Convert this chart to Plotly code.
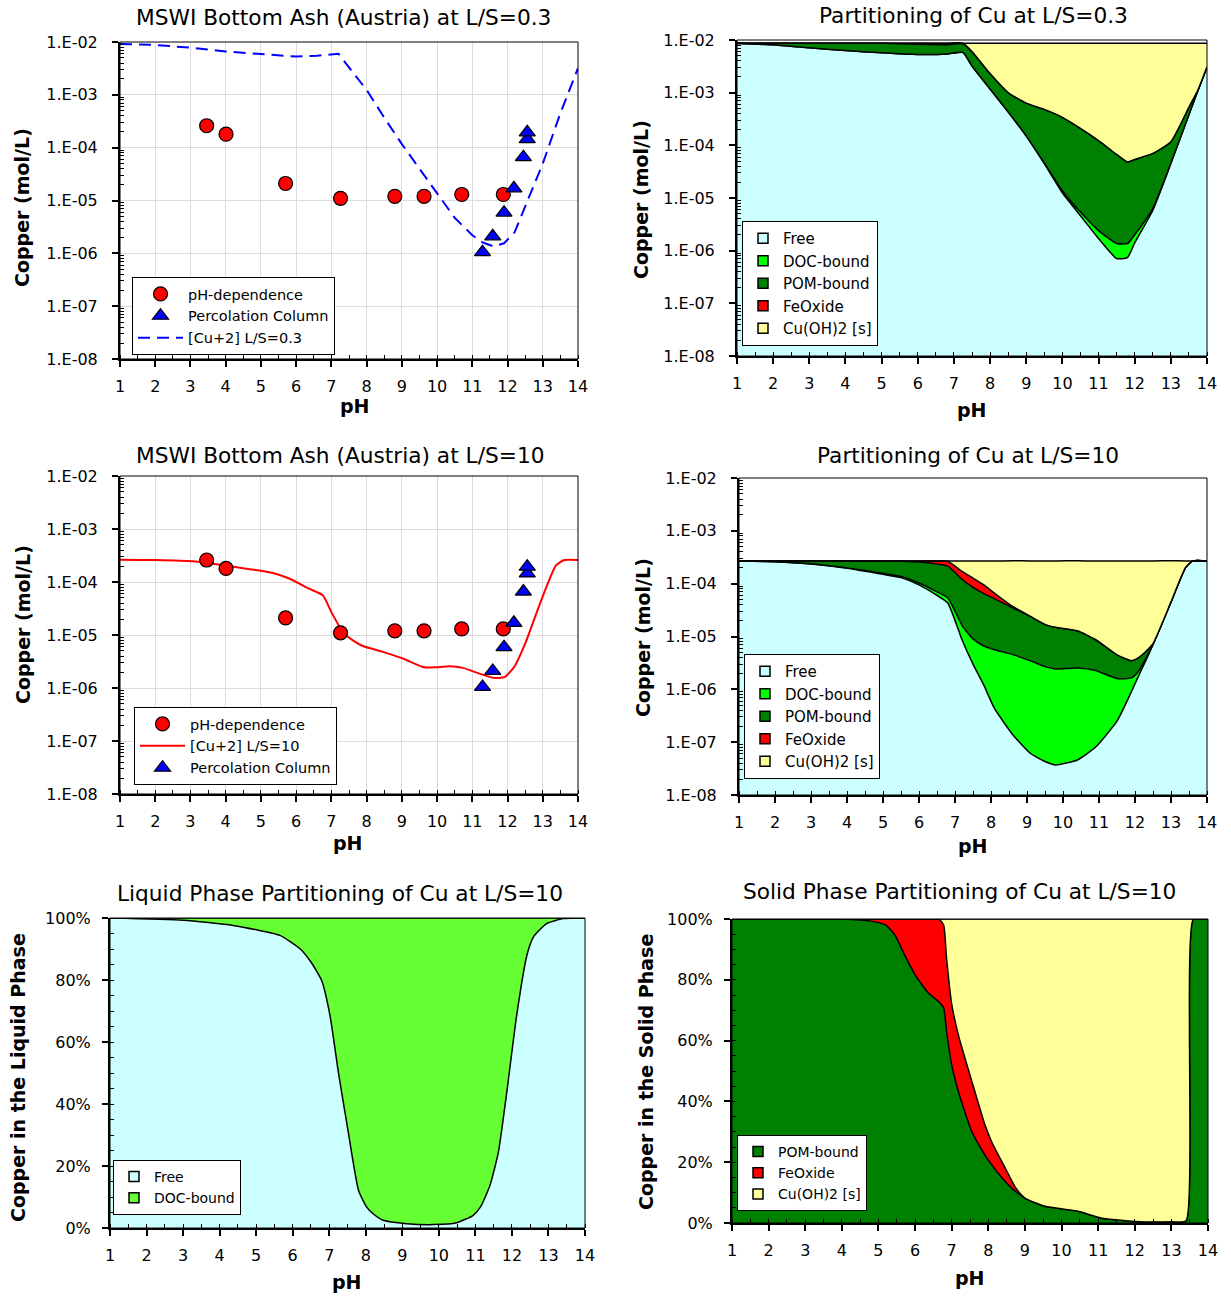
import numpy as np
import plotly.graph_objects as go

W, H = 1231, 1297
FONT = "DejaVu Sans"

# ---------------- data ----------------
ph_ticks = list(range(1, 15))
log_tick_vals = [1e-8, 1e-7, 1e-6, 1e-5, 1e-4, 1e-3, 1e-2]
log_tick_text = ["1.E-08", "1.E-07", "1.E-06", "1.E-05", "1.E-04", "1.E-03", "1.E-02"]
pct_tick_vals = [0, 20, 40, 60, 80, 100]
pct_tick_text = ["0%", "20%", "40%", "60%", "80%", "100%"]

# measured leaching data
phdep_ph = [3.46, 4.01, 5.70, 7.26, 8.80, 9.63, 10.70, 11.88]
phdep_cu = [2.6e-4, 1.8e-4, 2.1e-5, 1.1e-5, 1.2e-5, 1.2e-5, 1.3e-5, 1.3e-5]
perc_ph = [11.29, 11.58, 11.90, 12.18, 12.45, 12.56, 12.56]
perc_cu = [1.05e-6, 2.1e-6, 5.9e-6, 1.7e-5, 6.6e-5, 1.45e-4, 1.95e-4]

# model [Cu+2] at L/S=0.3
ls03_ph = [1, 2, 3, 4, 5, 6, 6.6, 7.2, 7.5, 8, 8.5, 9, 9.5, 10, 10.5, 11, 11.3, 11.6,
           11.9, 12.2, 12.6, 13, 13.5, 14]
ls03_cu = [9.2e-3, 8.8e-3, 7.8e-3, 6.6e-3, 5.9e-3, 5.3e-3, 5.5e-3, 6.0e-3, 3.3e-3, 1.24e-3,
           3.7e-4, 1.17e-4, 4.0e-5, 1.37e-5, 4.7e-6, 2.2e-6, 1.6e-6, 1.35e-6, 1.55e-6, 2.5e-6,
           1.1e-5, 5.0e-5, 4.5e-4, 3.2e-3]

# model [Cu+2] at L/S=10
ls10_ph = [1, 2, 3.08, 4.02, 5.34, 5.82, 6.38, 6.76, 7.0, 7.33, 7.61, 7.89, 8.46, 9.03, 9.59,
           9.9, 10.35, 10.73, 11.2, 11.62, 11.91, 12.19, 12.52, 12.9, 13.37, 13.61, 14]
ls10_cu = [2.64e-4, 2.6e-4, 2.45e-4, 2.03e-4, 1.48e-4, 1.15e-4, 7.4e-5, 5.6e-5, 2.7e-5, 1.13e-5,
           7.9e-6, 6.2e-6, 4.8e-6, 3.6e-6, 2.5e-6, 2.45e-6, 2.57e-6, 2.4e-6, 1.87e-6, 1.55e-6,
           1.6e-6, 2.5e-6, 7.4e-6, 3.6e-5, 2.03e-4, 2.6e-4, 2.6e-4]

# partitioning at L/S=0.3 (mol/L)
p03_ph = [1, 2, 3, 4, 5, 6, 6.8, 7.25, 7.5, 8, 8.5, 9, 9.5, 10, 10.5, 11, 11.5, 11.8, 12,
          12.5, 13, 13.5, 13.75, 14]
p03_free = [8.6e-3, 8.1e-3, 7.1e-3, 6.3e-3, 5.7e-3, 5.3e-3, 5.4e-3, 5.8e-3, 3.2e-3, 1.17e-3,
            4.3e-4, 1.5e-4, 4.5e-5, 1.26e-5, 4.6e-6, 1.7e-6, 7.1e-7, 7.4e-7, 1.4e-6, 5.8e-6,
            4.5e-5, 3.8e-4, 1.1e-3, 3.1e-3]
p03_doc = [2e-6, 3e-6, 4e-6, 5e-6, 5e-6, 5e-6, 5e-6, 5e-6, 4e-6, 3e-6, 2e-6, 1.5e-6, 1.2e-6,
           1.0e-6, 8e-7, 7e-7, 6.6e-7, 6.2e-7, 6e-7, 5e-7, 5e-7, 5e-7, 5e-7, 5e-7]
p03_pom = [1e-4, 6e-4, 1.6e-3, 2.4e-3, 2.95e-3, 3.0e-3, 2.7e-3, 2.7e-3, 2.8e-3, 1.13e-3,
           5.7e-4, 4.8e-4, 4.35e-4, 3.27e-4, 2.05e-4, 1.21e-4, 6.6e-5, 4.7e-5, 5.2e-5, 6.4e-5,
           7.2e-5, 1.5e-4, 3e-5, 0]
p03_fe = [0, 0, 0, 0, 5e-5, 4e-4, 6e-4, 2e-4, 3e-5, 0, 0, 0, 0, 0, 0, 0, 0, 0, 0, 0, 0, 0, 0, 0]
p03_cuoh = [0, 0, 0, 0, 0, 0, 0, 0, 2.67e-3, 6.4e-3, 7.7e-3, 8.07e-3, 8.22e-3, 8.36e-3,
            8.49e-3, 8.58e-3, 8.63e-3, 8.65e-3, 8.65e-3, 8.63e-3, 8.58e-3, 8.17e-3, 7.57e-3,
            5.6e-3]

# partitioning at L/S=10 (mol/L)
p10_ph = [1, 2, 3, 4, 5, 5.5, 6, 6.5, 6.8, 7.2, 7.5, 7.8, 8.1, 8.6, 9.1, 9.5, 9.8, 10.4,
          10.9, 11.5, 11.9, 12.1, 12.3, 12.5, 13, 13.4, 13.6, 14]
p10_free = [2.68e-4, 2.6e-4, 2.35e-4, 1.95e-4, 1.5e-4, 1.3e-4, 9.5e-5, 6.0e-5, 4.3e-5, 8.5e-6,
            3.0e-6, 1.2e-6, 4.3e-7, 1.4e-7, 6.1e-8, 4.3e-8, 3.7e-8, 4.6e-8, 8.0e-8, 2.5e-7,
            9.0e-7, 1.8e-6, 3.5e-6, 7.0e-6, 4.5e-5, 2.0e-4, 2.7e-4, 2.7e-4]
p10_doc = [3e-7, 1e-6, 3e-6, 4e-6, 7e-6, 7e-6, 8e-6, 1.0e-5, 1.1e-5, 7.5e-6, 6.0e-6, 5.4e-6,
           5.2e-6, 4.4e-6, 3.4e-6, 2.65e-6, 2.4e-6, 2.5e-6, 2.2e-6, 1.35e-6, 7.5e-7, 4e-7,
           3e-7, 1e-7, 1e-7, 0, 0, 0]
p10_pom = [2e-6, 9e-6, 3.2e-5, 7.1e-5, 1.13e-4, 1.3e-4, 1.55e-4, 1.65e-4, 1.61e-4, 1.04e-4,
           7.6e-5, 5.8e-5, 4.6e-5, 3.05e-5, 2.05e-5, 1.43e-5, 1.25e-5, 1.03e-5, 6.5e-6, 2.9e-6,
           1.85e-6, 1.8e-6, 1.4e-6, 2e-7, 1e-7, 0, 0, 0]
p10_fe = [0, 0, 0, 0, 0, 3e-6, 1.2e-5, 3.5e-5, 5.0e-5, 5.0e-5, 4.2e-5, 3.0e-5, 1.4e-5, 2e-6,
          0, 0, 0, 0, 0, 0, 0, 0, 0, 0, 0, 0, 0, 0]
p10_cuoh = [0, 0, 0, 0, 0, 0, 0, 0, 5e-6, 1.0e-4, 1.43e-4, 1.75e-4, 2.04e-4, 2.33e-4, 2.46e-4,
            2.53e-4, 2.55e-4, 2.572e-4, 2.612e-4, 2.655e-4, 2.665e-4, 2.66e-4, 2.648e-4,
            2.627e-4, 2.25e-4, 7.0e-5, 0, 0]

# liquid phase partitioning at L/S=10 (%)
liq_ph = [1, 3.0, 4.37, 5.65, 6.2, 6.5, 6.79, 7.02, 7.25, 7.52, 7.8, 8.02, 8.2, 8.48, 9.12,
          9.85, 10.49, 10.94, 11.15, 11.4, 11.63, 11.86, 12.13, 12.41, 12.59, 12.95, 13.41, 14]
liq_free = [100, 99.3, 97.6, 94.4, 90.1, 85.8, 79.9, 68.6, 50.3, 31, 12.2, 6.8, 4.6, 2.5, 1.4,
            1.1, 1.7, 4.1, 7.0, 13.8, 24.5, 43.9, 68.6, 88, 93.9, 98.2, 99.8, 100]
liq_doc = [0, 0.7, 2.4, 5.6, 9.9, 14.2, 20.1, 31.4, 49.7, 69, 87.8, 93.2, 95.4, 97.5, 98.6,
           98.9, 98.3, 95.9, 93.0, 86.2, 75.5, 56.1, 31.4, 12, 6.1, 1.8, 0.2, 0]

# solid phase partitioning at L/S=10 (%)
sol_ph = [1, 4, 4.8, 5.2, 5.45, 5.7, 6, 6.35, 6.65, 6.78, 6.86, 7.0, 7.2, 7.55, 7.9, 8.1, 8.4,
          8.75, 9.0, 9.55, 10.4, 11.1, 12.0, 13.0, 13.4, 13.6, 14]
sol_pom = [100, 100, 99.3, 98, 94.7, 88.5, 81.6, 75.8, 72.7, 70.8, 63, 52, 42.5, 30, 22.5, 19,
           14.5, 10.3, 8.2, 5.5, 4.0, 1.6, 0.5, 0.4, 0.7, 100, 100]
sol_fe = [0, 0, 0.7, 2, 5.3, 11.5, 18.4, 24.2, 27.3, 27.2, 24, 20, 18.5, 16.6, 10.1, 7.5, 5,
          1.2, 0, 0, 0, 0, 0, 0, 0, 0, 0]
sol_cuoh = [0, 0, 0, 0, 0, 0, 0, 0, 0, 2, 13, 28, 39, 53.4, 67.4, 73.5, 80.5, 88.5, 91.8, 94.5,
            96, 98.4, 99.5, 99.6, 99.3, 0, 0]

# ---------------- styling ----------------
C_FREE = "#CCFFFF"
C_DOC = "#00FF00"
C_DOC_LIQ = "#66FF33"
C_POM = "#008000"
C_FE = "#FF0000"
C_CUOH = "#FFFF99"

panels = {
    1: dict(x=(120, 578), y=(42, 359)),
    2: dict(x=(737, 1207), y=(40, 356)),
    3: dict(x=(120, 578), y=(476, 794)),
    4: dict(x=(739, 1207), y=(478, 795)),
    5: dict(x=(110, 585), y=(918, 1228)),
    6: dict(x=(732, 1208), y=(919, 1223)),
}

fig = go.Figure()


def ref(n, kind):
    return kind if n == 1 else f"{kind}{n}"


minor_log = [m * 10.0 ** e for e in range(-8, -2) for m in range(2, 10)]

layout = dict(
    width=W, height=H, autosize=False,
    margin=dict(l=0, r=0, t=0, b=0, pad=0),
    paper_bgcolor="white", plot_bgcolor="white",
    font=dict(family=FONT, color="black"),
    hovermode=False,
    shapes=[], annotations=[],
)

for n, g in panels.items():
    x0, x1 = g["x"]
    yt, yb = g["y"]
    grid = n in (1, 3)
    xa = dict(
        domain=[x0 / W, x1 / W], anchor=ref(n, "y"), range=[1, 14], automargin=False,
        tickmode="array", tickvals=ph_ticks, ticks="outside", ticklen=6, tickwidth=1.5,
        tickcolor="black", showline=True, linecolor="black", linewidth=2, zeroline=False,
        showgrid=grid, gridcolor="#dcdcdc", gridwidth=1,
        tickfont=dict(family=FONT, size=16, color="black"), ticklabelstandoff=6,
        minor=dict(tickmode="linear", tick0=1, dtick=0.5, ticks="inside", ticklen=4,
                   tickwidth=1.2, tickcolor="black", showgrid=False),
        layer="above traces",
    )
    if n <= 4:
        ya = dict(
            domain=[1 - yb / H, 1 - yt / H], anchor=ref(n, "x"), type="log", range=[-8, -2],
            automargin=False,
            tickmode="array", tickvals=log_tick_vals, ticktext=log_tick_text,
            ticks="outside", ticklen=6, tickwidth=1.5, tickcolor="black",
            showline=True, linecolor="black", linewidth=2, zeroline=False,
            showgrid=grid, gridcolor="#dcdcdc", gridwidth=1,
            tickfont=dict(family=FONT, size=16, color="black"), ticklabelstandoff=11,
            minor=dict(tickmode="array", tickvals=minor_log, ticks="inside", ticklen=4,
                       tickwidth=1, tickcolor="black", showgrid=False),
            layer="above traces",
        )
    else:
        ya = dict(
            domain=[1 - yb / H, 1 - yt / H], anchor=ref(n, "x"), range=[0, 100],
            automargin=False,
            tickmode="array", tickvals=pct_tick_vals, ticktext=pct_tick_text,
            ticks="outside", ticklen=6, tickwidth=1.5, tickcolor="black",
            showline=True, linecolor="black", linewidth=2, zeroline=False, showgrid=False,
            tickfont=dict(family=FONT, size=16, color="black"), ticklabelstandoff=8,
            minor=dict(tickmode="linear", tick0=0, dtick=5, ticks="inside", ticklen=4,
                       tickwidth=1, tickcolor="black", showgrid=False),
            layer="above traces",
        )
    layout[ref(n, "xaxis")] = xa
    layout[ref(n, "yaxis")] = ya
    layout["shapes"].append(dict(
        type="rect", xref=f"{ref(n, 'x')} domain", yref=f"{ref(n, 'y')} domain",
        x0=0, x1=1, y0=0, y1=1, line=dict(color="black", width=1), layer="above"))


def ann(text, xpx, ypx, size, angle=0):
    layout["annotations"].append(dict(
        text=text, x=xpx / W, y=1 - ypx / H, xref="paper", yref="paper",
        xanchor="center", yanchor="middle", showarrow=False, textangle=angle,
        font=dict(family=FONT, size=size, color="black")))


# titles
TS = 21.7
ann("MSWI Bottom Ash (Austria) at L/S=0.3", 343, 18, TS)
ann("Partitioning of Cu at L/S=0.3", 973, 16, TS)
ann("MSWI Bottom Ash (Austria) at L/S=10", 340, 455, TS)
ann("Partitioning of Cu at L/S=10", 968, 455, TS)
ann("Liquid Phase Partitioning of Cu at L/S=10", 340, 893, TS)
ann("Solid Phase Partitioning of Cu at L/S=10", 959, 891, TS)
# axis titles
ann("<b>Copper (mol/L)</b>", 22, 208, 19, -90)
ann("<b>Copper (mol/L)</b>", 641, 200, 19, -90)
ann("<b>Copper (mol/L)</b>", 23, 625, 19, -90)
ann("<b>Copper (mol/L)</b>", 643, 638, 19, -90)
ann("<b>Copper in the Liquid Phase</b>", 18, 1078, 19, -90)
ann("<b>Copper in the Solid Phase</b>", 646, 1072, 19, -90)
ann("<b>pH</b>", 355, 406, 19)
ann("<b>pH</b>", 972, 410, 19)
ann("<b>pH</b>", 348, 843, 19)
ann("<b>pH</b>", 973, 846, 19)
ann("<b>pH</b>", 347, 1282, 19)
ann("<b>pH</b>", 970, 1278, 19)


def add_stack(n, xs, comps, colors, base):
    xa, ya = ref(n, "x"), ref(n, "y")
    fig.add_trace(go.Scatter(x=xs, y=[base] * len(xs), mode="lines", line=dict(width=0),
                             showlegend=False, xaxis=xa, yaxis=ya))
    cum = np.zeros(len(xs))
    for comp, col in zip(comps, colors):
        cum = cum + np.array(comp, dtype=float)
        fig.add_trace(go.Scatter(x=xs, y=cum, mode="lines", fill="tonexty", fillcolor=col,
                                 line=dict(color="black", width=1.5, shape="spline",
                                           smoothing=0.5),
                                 showlegend=False, xaxis=xa, yaxis=ya))


def add_legend_squares(n, names, colors, legend):
    for i, (nm, col) in enumerate(zip(names, colors)):
        fig.add_trace(go.Scatter(
            x=[None], y=[None], mode="markers", name=nm, legend=legend, legendrank=i + 1,
            legendgroup=f"{legend}_{i}",
            marker=dict(symbol="square", size=10, color=col, line=dict(color="black", width=1.5)),
            xaxis=ref(n, "x"), yaxis=ref(n, "y")))


def add_measured(n, legend, line_ph, line_cu, line_name, line_style, ranks):
    xa, ya = ref(n, "x"), ref(n, "y")
    fig.add_trace(go.Scatter(x=line_ph, y=line_cu, mode="lines", name=line_name,
                             line=line_style, legend=legend, legendrank=ranks[2],
                             xaxis=xa, yaxis=ya))
    fig.add_trace(go.Scatter(x=phdep_ph, y=phdep_cu, mode="markers", name="pH-dependence",
                             marker=dict(symbol="circle", size=14, color="#FF0000",
                                         line=dict(color="black", width=1.2)),
                             legend=legend, legendrank=ranks[0], xaxis=xa, yaxis=ya))
    fig.add_trace(go.Scatter(x=perc_ph, y=perc_cu, mode="markers", name="Percolation Column",
                             marker=dict(symbol="triangle-up", size=14, color="#0000FF",
                                         line=dict(color="black", width=1.2)),
                             legend=legend, legendrank=ranks[1], xaxis=xa, yaxis=ya))


# panel 1
add_measured(1, "legend", ls03_ph, ls03_cu, "[Cu+2] L/S=0.3",
             dict(color="#0000FF", width=2, dash="12px,7px"), (1, 2, 3))
# panel 3
add_measured(3, "legend3", ls10_ph, ls10_cu, "[Cu+2] L/S=10",
             dict(color="#FF0000", width=2, shape="spline", smoothing=0.5), (1, 3, 2))

five_names = ["Free", "DOC-bound", "POM-bound", "FeOxide", "Cu(OH)2 [s]"]
five_cols = [C_FREE, C_DOC, C_POM, C_FE, C_CUOH]
# panel 2
add_stack(2, p03_ph, [p03_free, p03_doc, p03_pom, p03_fe, p03_cuoh], five_cols, 1e-12)
add_legend_squares(2, five_names, five_cols, "legend2")
# panel 4
add_stack(4, p10_ph, [p10_free, p10_doc, p10_pom, p10_fe, p10_cuoh], five_cols, 1e-12)
add_legend_squares(4, five_names, five_cols, "legend4")
# panel 5
add_stack(5, liq_ph, [liq_free, liq_doc], [C_FREE, C_DOC_LIQ], 0)
add_legend_squares(5, ["Free", "DOC-bound"], [C_FREE, C_DOC_LIQ], "legend5")
# panel 6
add_stack(6, sol_ph, [sol_pom, sol_fe, sol_cuoh], [C_POM, C_FE, C_CUOH], 0)
add_legend_squares(6, ["POM-bound", "FeOxide", "Cu(OH)2 [s]"], [C_POM, C_FE, C_CUOH], "legend6")


def leg(xpx, ypx, size, width=30, gap=0):
    return dict(x=xpx / W, y=1 - ypx / H, xanchor="left", yanchor="top", xref="paper",
                yref="paper", bgcolor="white", bordercolor="black", borderwidth=1,
                font=dict(family=FONT, size=size, color="black"), itemwidth=width,
                tracegroupgap=gap, traceorder="normal", itemclick=False)


layout["legend"] = leg(132, 277, 14.5, 45)
layout["legend2"] = leg(742, 221, 15, 30, 2.5)
layout["legend3"] = leg(134, 707, 14.5, 45)
layout["legend4"] = leg(744, 654, 15, 30, 2.5)
layout["legend5"] = leg(113, 1160, 14, 30, 4)
layout["legend6"] = leg(737, 1135, 14, 30, 4)

fig.update_layout(**layout)
fig.write_html(
    "out.html",
    config={"displayModeBar": False},
    post_script="document.body.style.margin='0';document.body.style.overflow='hidden';",
)
